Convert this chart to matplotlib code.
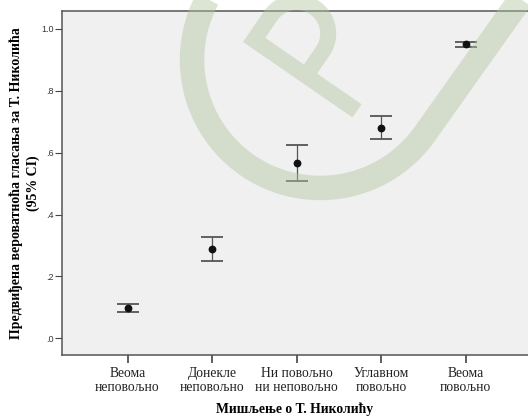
import numpy as np
import matplotlib
matplotlib.use("Agg")
import matplotlib.pyplot as plt
from matplotlib.lines import Line2D

# data
categories = ["Веома\nнеповољно", "Донекле\nнеповољно", "Ни повољно\nни неповољно",
              "Углавном\nповољно", "Веома\nповољно"]
means = [0.099, 0.289, 0.567, 0.680, 0.951]
ci_low = [0.084, 0.250, 0.509, 0.643, 0.941]
ci_high = [0.112, 0.327, 0.625, 0.718, 0.958]
y_ticks = [0.0, 0.2, 0.4, 0.6, 0.8, 1.0]
y_ticklabels = [".0", ".2", ".4", ".6", ".8", "1.0"]

W, H, DPI = 528, 416, 100
fig = plt.figure(figsize=(W / DPI, H / DPI), dpi=DPI)
ax = fig.add_axes([62 / W, 1 - 355 / H, (W - 62) / W, 344 / H])
ax.set_facecolor("#f0f0f0")

x = np.arange(1, len(categories) + 1)
m = np.array(means)
err = [m - np.array(ci_low), np.array(ci_high) - m]
ax.errorbar(x, m, yerr=err, fmt="none", ecolor="#555555", elinewidth=0.9,
            capsize=7.8, capthick=1.3, zorder=2)
ax.plot(x, m, "o", color="#111111", markersize=4.6, zorder=3)

ax.set_xlim(0.225, 5.738)
ax.set_ylim(-0.054, 1.058)
ax.set_xticks(x)
ax.set_xticklabels(categories, family="Liberation Serif", fontsize=9.8,
                   color="#222222", linespacing=1.1)
ax.set_yticks(y_ticks)
ax.set_yticklabels(y_ticklabels, family="Liberation Sans", fontsize=6.5,
                   color="#333333")
ax.tick_params(axis="y", length=5, width=0.8, color="#444444", pad=1)
ax.tick_params(axis="x", length=5.5, width=1.2, color="#444444", pad=3)

for side in ["left", "bottom", "top"]:
    ax.spines[side].set_color("#555555")
    ax.spines[side].set_linewidth(1.1)
ax.spines["right"].set_visible(False)

ax.set_xlabel("Мишљење о Т. Николићу", family="Liberation Serif",
              fontweight="bold", fontsize=9.8, labelpad=6)
ax.set_ylabel("Предвиђена вероватноћа гласања за Т. Николића\n(95% CI)",
              family="Liberation Serif", fontweight="bold", fontsize=10,
              labelpad=1, linespacing=1.35)

# --- watermark (image pixel coordinates, y down) ---
def to_fig(pts):
    pts = np.asarray(pts)
    return pts[:, 0] / W, 1 - pts[:, 1] / H

def stroke(pts, width_px):
    fx, fy = to_fig(pts)
    fig.add_artist(Line2D(fx, fy, transform=fig.transFigure, color="#b2c69e",
                          alpha=0.45, linewidth=width_px * 72 / DPI,
                          solid_capstyle="butt", solid_joinstyle="miter",
                          zorder=10))

th = np.linspace(0, np.pi, 80)

# rounded outer band
c = np.array([320.2, 59.8])
rad = 128.2
nv = np.array([0.815, 0.579])
uv = np.array([0.579, -0.815])
arc = c + rad * (np.cos(th)[:, None] * nv - np.sin(th)[:, None] * uv)
band = np.vstack([c + rad * nv + 220 * uv, arc, c - rad * nv + 220 * uv])
stroke(band, 24.5)

# letter P
sv = np.array([0.823, 0.567])
lv = np.array([0.567, -0.823])
c0 = np.array([254.1, 39.9])
end = np.array([357.0, 110.8])
leg = 29.4
r_p = 31.5
mid = c0 + r_p * sv + leg * lv
bowl = mid + r_p * (-np.cos(th)[:, None] * sv + np.sin(th)[:, None] * lv)
p_path = np.vstack([end, c0, bowl, c0 + 2 * r_p * sv])
stroke(p_path, 16)

# small ring cut by the top edge
t2 = np.linspace(0, 2 * np.pi, 120)
ring = np.column_stack([407 + 68 * np.cos(t2), -76 + 68 * np.sin(t2)])
stroke(ring, 24)

fig.savefig("out.png", dpi=DPI, facecolor="white")
